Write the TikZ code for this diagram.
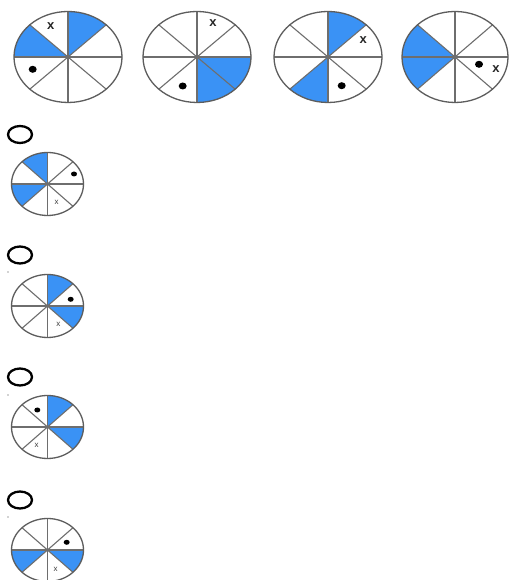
\documentclass[tikz,border=0pt]{standalone}
\usepackage{fontspec}
\setmainfont{Liberation Sans}
\usetikzlibrary{calc}
\definecolor{spinblue}{RGB}{58,146,245}
\definecolor{linegray}{RGB}{110,110,110}
\tikzset{
  spoke/.style={draw=linegray, line width=1.1pt},
  rim/.style={draw=linegray!85!black, line width=1.3pt},
  bigx/.style={inner sep=0pt, font=\fontsize{13}{13}\selectfont\bfseries, text=black!85},
  smallx/.style={inner sep=0pt, font=\fontsize{8}{8}\selectfont, text=black!75},
  optcircle/.style={draw=black, line width=2.3pt},
  speck/.style={fill=gray!70}
}
\newcommand\drawspinner[5]{%
  \coordinate (#1) at (#2);
  \foreach \s in {#5} {
    \fill[spinblue] (#1) -- ($(#1)+(\s:#3 and #4)$)
      arc[start angle=\s, delta angle=45, x radius=#3, y radius=#4] -- cycle;
  }
  \foreach \a in {0,45,90,135} {
    \draw[spoke] ($(#1)+(\a:#3 and #4)$) -- ($(#1)+(\a+180:#3 and #4)$);
  }
  \draw[rim] (#1) ellipse[x radius=#3, y radius=#4];
}
\begin{document}
\begin{tikzpicture}[x=1pt,y=1pt]
\useasboundingbox (0,0) rectangle (509,580);
\fill[white] (0,0) rectangle (509,580);
% top row
\drawspinner{e1}{68,523}{54pt}{45.5pt}{45,135}
\drawspinner{e2}{197,523}{54pt}{45.5pt}{270,315}
\drawspinner{e3}{328,523}{54pt}{45.5pt}{45,225}
\drawspinner{e4}{455,523}{53pt}{45.5pt}{135,180}
\node[bigx] (x1) at (50.7,553.5) {x};
\fill (32.7,510.7) ellipse[x radius=4pt, y radius=3.5pt];
\node[bigx] (x2) at (213,556.5) {x};
\fill (182.7,494) ellipse[x radius=4pt, y radius=3.5pt];
\node[bigx] (x3) at (363.3,540) {x};
\fill (341.7,494.3) ellipse[x radius=4pt, y radius=3.5pt];
\fill (479,515.7) ellipse[x radius=4pt, y radius=3.5pt];
\node[bigx] (x4) at (496,511) {x};
% option A
\draw[optcircle] (20,445.5) ellipse[x radius=12pt, y radius=8.5pt];
\drawspinner{oa}{47.5,396}{36pt}{31.5pt}{90,180}
\fill (74,406) ellipse[x radius=3pt, y radius=2.5pt];
\node[smallx] (xa) at (56.7,377.5) {x};
% option B
\draw[optcircle] (20,325) ellipse[x radius=12pt, y radius=8.5pt];
\fill[speck] (8,308) circle[radius=0.8pt];
\drawspinner{ob}{47.5,274}{36pt}{31.5pt}{45,315}
\fill (70.7,280.7) ellipse[x radius=3pt, y radius=2.5pt];
\node[smallx] (xb) at (58.3,255.3) {x};
% option C
\draw[optcircle] (20,203) ellipse[x radius=12pt, y radius=8.5pt];
\fill[speck] (8,185) circle[radius=0.8pt];
\drawspinner{oc}{47.5,153}{36pt}{31.5pt}{45,315}
\fill (37.3,170) ellipse[x radius=3pt, y radius=2.5pt];
\node[smallx] (xc) at (36.7,134.5) {x};
% option D
\draw[optcircle] (20,80) ellipse[x radius=12pt, y radius=8.5pt];
\fill[speck] (8,63) circle[radius=0.8pt];
\drawspinner{od}{47.5,30}{36pt}{31.5pt}{180,315}
\fill (66.7,37.7) ellipse[x radius=3pt, y radius=2.5pt];
\node[smallx] (xd) at (55.7,11) {x};
\end{tikzpicture}
\end{document}
